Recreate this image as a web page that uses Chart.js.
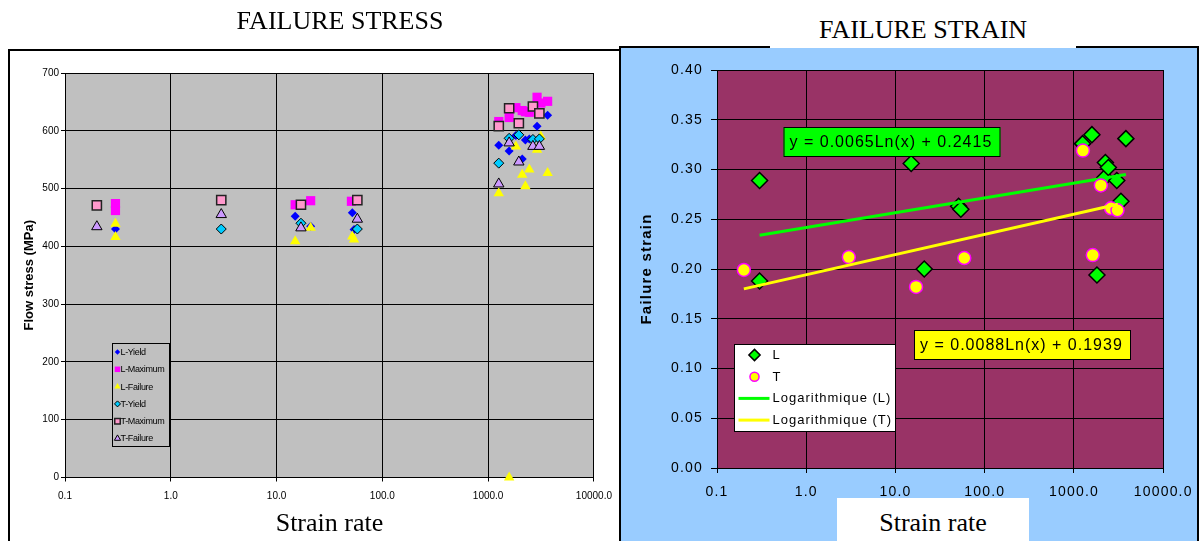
<!DOCTYPE html>
<html>
<head>
<meta charset="utf-8">
<script src="https://cdn.jsdelivr.net/npm/chart.js@4.4.1/dist/chart.umd.min.js"></script>
<style>
html,body{margin:0;padding:0;background:#fff;width:1201px;height:541px;overflow:hidden;position:relative}
.abs{position:absolute}
.ttl{font-family:'Liberation Serif','Times New Roman',serif;font-size:26px;line-height:26px;white-space:nowrap;color:#000}
#leftFrame{left:8px;top:49px;width:800px;height:600px;border:2px solid #000;z-index:1}
#leftCanvas{left:0;top:0;z-index:2}
#rightPanel{left:619px;top:46px;width:576px;height:600px;background:#99CCFF;border:2px solid #000;z-index:3}
#rightCanvas{left:621px;top:48px;z-index:4}
#title1{left:340px;top:8px;transform:translateX(-50%);z-index:5}
#title2{left:770px;top:0;width:306px;height:48px;background:#fff;text-align:center;padding-top:0;z-index:5}
#title2 span{position:relative;top:16.5px}
#xTitle2{left:837px;top:498px;width:192px;height:60px;background:#fff;text-align:center;z-index:5}
#xTitle2 span{position:relative;top:12px}
</style>
</head>
<body>
<div id="leftFrame" class="abs"></div>
<canvas id="leftCanvas" class="abs" width="621" height="541"></canvas>
<div id="rightPanel" class="abs"></div>
<canvas id="rightCanvas" class="abs" width="578" height="493"></canvas>
<div id="title1" class="abs ttl">FAILURE STRESS</div>
<div id="title2" class="abs ttl"><span>FAILURE STRAIN</span></div>
<div id="xTitle2" class="abs ttl"><span>Strain rate</span></div>
<script>
// ---------- tick values / labels ----------
const rateTicks = [0.1, 1, 10, 100, 1000, 10000];
const rateTickLabels = ['0.1', '1.0', '10.0', '100.0', '1000.0', '10000.0'];
const stressTicks = [0, 100, 200, 300, 400, 500, 600, 700];
const stressTickLabels = ['0', '100', '200', '300', '400', '500', '600', '700'];
const strainTicks = [0, 0.05, 0.10, 0.15, 0.20, 0.25, 0.30, 0.35, 0.40];
const strainTickLabels = ['0.00', '0.05', '0.10', '0.15', '0.20', '0.25', '0.30', '0.35', '0.40'];

// ---------- FAILURE STRESS data ----------
const stressSeriesNames = ['L-Yield', 'L-Maximum', 'L-Failure', 'T-Yield', 'T-Maximum', 'T-Failure'];
const lYieldRate = [0.3, 15, 21, 52, 54, 1260, 1580, 1830, 2100, 2250, 2450, 2900, 3650];
const lYieldStress = [430, 452, 435, 458, 429, 575, 565, 592, 551, 584, 586, 608, 627];
const lMaxRate = [0.3, 0.3, 15, 21, 51, 1260, 1580, 1830, 2100, 2250, 2450, 2900, 3150, 3650];
const lMaxStress = [474, 462, 472, 479, 478, 616, 623, 640, 635, 633, 632, 658, 648, 651];
const lFailRate = [0.3, 0.3, 15, 21, 52, 54, 1580, 1260, 1830, 2100, 2250, 2450, 2900, 3150, 3650];
const lFailStress = [439, 416, 409, 432, 417, 412, 0, 492, 573, 524, 504, 533, 567, 590, 527];
const tYieldRate = [3, 17, 58, 1260, 1580, 1950, 2650, 3050];
const tYieldStress = [430, 440, 430, 544, 587, 593, 585, 586];
const tMaxRate = [0.2, 3, 17, 58, 1260, 1580, 1950, 2650, 3050];
const tMaxStress = [471, 480, 472, 480, 608, 639, 613, 642, 630];
const tFailRate = [0.2, 3, 17, 58, 1260, 1580, 1950, 2650, 3050];
const tFailStress = [434, 455, 432, 447, 508, 579, 546, 573, 573];

// ---------- FAILURE STRAIN data ----------
const strainSeriesNames = ['L', 'T', 'Logarithmique (L)', 'Logarithmique (T)'];
const lStrainRate = [0.3, 0.3, 15, 21, 51, 54, 1250, 1590, 1810, 2220, 2250, 2430, 3020, 3360, 3820];
const lStrain = [0.289, 0.188, 0.306, 0.200, 0.263, 0.260, 0.326, 0.335, 0.194, 0.292, 0.307, 0.302, 0.289, 0.268, 0.331];
const tStrainRate = [0.2, 3, 17, 59, 1260, 1625, 2000, 2600, 3075];
const tStrain = [0.199, 0.212, 0.182, 0.211, 0.319, 0.214, 0.284, 0.261, 0.259];
// trendline end points
const trendLRate = [0.3, 3820];
const trendLStrain = [0.234, 0.295];
const trendTRate = [0.2, 3100];
const trendTStrain = [0.180, 0.265];
const trendEquations = ['y = 0.0065Ln(x) + 0.2415', 'y = 0.0088Ln(x) + 0.1939'];

const pts = (xs, ys) => xs.map((x, i) => ({x: x, y: ys[i]}));

const SANS = "'Liberation Sans', Arial, sans-serif";
const SERIF = "'Liberation Serif', 'Times New Roman', serif";
Chart.defaults.font.family = SANS;
Chart.defaults.color = '#000';

function drawMarker(ctx, style, r, x, y, fill, stroke, bw) {
  ctx.beginPath();
  if (style === 'rect') {
    const s = r * Math.SQRT1_2;
    ctx.rect(x - s, y - s, 2 * s, 2 * s);
  } else if (style === 'rectRot') {
    ctx.moveTo(x, y - r); ctx.lineTo(x + r, y); ctx.lineTo(x, y + r); ctx.lineTo(x - r, y); ctx.closePath();
  } else if (style === 'triangle') {
    ctx.moveTo(x, y - r); ctx.lineTo(x + r * 0.866, y + r * 0.5); ctx.lineTo(x - r * 0.866, y + r * 0.5); ctx.closePath();
  } else {
    ctx.arc(x, y, r, 0, Math.PI * 2);
  }
  ctx.fillStyle = fill; ctx.fill();
  if (bw > 0) { ctx.strokeStyle = stroke; ctx.lineWidth = bw; ctx.stroke(); }
}

const plotBg = {
  id: 'plotBg',
  beforeDraw(chart, args, opts) {
    const a = chart.chartArea, ctx = chart.ctx;
    ctx.save();
    ctx.fillStyle = opts.color;
    ctx.fillRect(a.left, a.top, a.right - a.left, a.bottom - a.top);
    ctx.restore();
    ctx.letterSpacing = opts.spacing || '0px';
  },
  afterDraw(chart) { chart.ctx.letterSpacing = '0px'; }
};

const boxLegend = {
  id: 'boxLegend',
  afterDraw(chart, args, o) {
    const ctx = chart.ctx;
    ctx.save();
    ctx.letterSpacing = '0px';
    ctx.fillStyle = o.bg;
    ctx.fillRect(o.x, o.y, o.w, o.h);
    ctx.strokeStyle = '#000'; ctx.lineWidth = 1;
    ctx.strokeRect(o.x + 0.5, o.y + 0.5, o.w - 1, o.h - 1);
    chart.data.datasets.forEach((ds, i) => {
      const cy = o.y + o.first + i * o.step;
      if (ds.showLine) {
        ctx.beginPath();
        ctx.strokeStyle = ds.borderColor; ctx.lineWidth = ds.borderWidth;
        ctx.moveTo(o.lineX0, cy); ctx.lineTo(o.lineX1, cy); ctx.stroke();
      } else {
        drawMarker(ctx, ds.pointStyle, ds.pointRadius * o.markerScale, o.markerX, cy,
          ds.backgroundColor, ds.borderColor, ds.borderWidth);
      }
      ctx.font = o.font;
      ctx.letterSpacing = o.spacing;
      ctx.fillStyle = '#000'; ctx.textBaseline = 'middle'; ctx.textAlign = 'left';
      ctx.fillText(ds.label, o.textX, cy + 0.5);
      ctx.letterSpacing = '0px';
    });
    ctx.restore();
  }
};

const eqBoxes = {
  id: 'eqBoxes',
  afterDraw(chart, args, o) {
    const ctx = chart.ctx;
    ctx.save();
    o.boxes.forEach(b => {
      ctx.fillStyle = b.fill; ctx.fillRect(b.x, b.y, b.w, b.h);
      ctx.strokeStyle = '#000'; ctx.lineWidth = 1; ctx.strokeRect(b.x + 0.5, b.y + 0.5, b.w - 1, b.h - 1);
      ctx.font = o.font; ctx.letterSpacing = o.spacing;
      ctx.fillStyle = '#000'; ctx.textBaseline = 'middle'; ctx.textAlign = 'left';
      ctx.fillText(b.text, b.x + o.padX, b.y + b.h / 2 + 1);
      ctx.letterSpacing = '0px';
    });
    ctx.restore();
  }
};

// ---------- left chart ----------
const stressStyles = [
  {pointStyle: 'rectRot', pointRadius: 4.5, backgroundColor: '#0000FF', borderColor: '#0000FF', borderWidth: 0},
  {pointStyle: 'rect', pointRadius: 6.5, backgroundColor: '#FF00FF', borderColor: '#FF00FF', borderWidth: 0},
  {pointStyle: 'triangle', pointRadius: 6, backgroundColor: '#FFFF00', borderColor: '#FFFF00', borderWidth: 0},
  {pointStyle: 'rectRot', pointRadius: 5, backgroundColor: '#00CCFF', borderColor: '#000000', borderWidth: 1},
  {pointStyle: 'rect', pointRadius: 6.5, backgroundColor: '#FF99CC', borderColor: '#222222', borderWidth: 1.5},
  {pointStyle: 'triangle', pointRadius: 6, backgroundColor: '#CC99FF', borderColor: '#000000', borderWidth: 1}
];
const stressData = [
  pts(lYieldRate, lYieldStress), pts(lMaxRate, lMaxStress), pts(lFailRate, lFailStress),
  pts(tYieldRate, tYieldStress), pts(tMaxRate, tMaxStress), pts(tFailRate, tFailStress)
];
const leftDatasets = stressSeriesNames.map((name, i) => Object.assign({
  label: name, data: stressData[i], order: stressSeriesNames.length - i, clip: false,
  pointHoverRadius: stressStyles[i].pointRadius
}, stressStyles[i]));

new Chart(document.getElementById('leftCanvas'), {
  type: 'scatter',
  data: {datasets: leftDatasets},
  plugins: [plotBg, boxLegend],
  options: {
    responsive: false, animation: false, devicePixelRatio: 1,
    layout: {padding: {left: 10, right: 25, top: 73, bottom: 0}},
    plugins: {
      legend: {display: false}, tooltip: {enabled: false},
      plotBg: {color: '#C0C0C0'},
      boxLegend: {x: 112, y: 343, w: 58, h: 104, first: 9, step: 17.3, bg: '#C0C0C0',
        markerX: 117.5, markerScale: 0.6, textX: 120.5, font: '9px ' + SANS, spacing: '-0.35px',
        lineX0: 0, lineX1: 0}
    },
    scales: {
      x: {
        type: 'logarithmic', min: 0.1, max: 10000,
        afterBuildTicks: s => { s.ticks = rateTicks.map(v => ({value: v})); },
        afterFit: s => { s.height = 63.5; },
        ticks: {callback: v => rateTickLabels[rateTicks.indexOf(v)], font: {size: 10}, color: '#000',
          padding: 9, autoSkip: false, maxRotation: 0},
        grid: {color: '#000', lineWidth: 1, tickLength: 4},
        border: {color: '#000', width: 1},
        title: {display: true, text: 'Strain rate', color: '#000',
          font: {family: SERIF, size: 26, weight: 'normal'}, padding: {top: 0, bottom: 1}}
      },
      y: {
        min: 0, max: 700,
        afterBuildTicks: s => { s.ticks = stressTicks.map(v => ({value: v})); },
        afterFit: s => { s.width = 55; },
        ticks: {callback: v => stressTickLabels[stressTicks.indexOf(v)], font: {size: 10}, color: '#000', padding: 2},
        grid: {color: '#000', lineWidth: 1, tickLength: 4},
        border: {color: '#000', width: 1},
        title: {display: true, text: 'Flow stress (MPa)', color: '#000',
          font: {size: 13, weight: 'bold'}, padding: {top: 12, bottom: 0}}
      }
    }
  }
});

// ---------- right chart ----------
const rightDatasets = [
  {label: strainSeriesNames[0], data: pts(lStrainRate, lStrain), order: 4, clip: false,
   pointStyle: 'rectRot', pointRadius: 8, pointHoverRadius: 8, backgroundColor: '#00FF00', borderColor: '#000000', borderWidth: 1.5},
  {label: strainSeriesNames[1], data: pts(tStrainRate, tStrain), order: 2, clip: false,
   pointStyle: 'circle', pointRadius: 6.5, pointHoverRadius: 6.5, backgroundColor: '#FFFF00', borderColor: '#FF00FF', borderWidth: 1.5},
  {label: strainSeriesNames[2], data: pts(trendLRate, trendLStrain), order: 3, showLine: true,
   pointRadius: 0, borderColor: '#00FF00', backgroundColor: '#00FF00', borderWidth: 3},
  {label: strainSeriesNames[3], data: pts(trendTRate, trendTStrain), order: 1, showLine: true,
   pointRadius: 0, borderColor: '#FFFF00', backgroundColor: '#FFFF00', borderWidth: 3}
];

new Chart(document.getElementById('rightCanvas'), {
  type: 'scatter',
  data: {datasets: rightDatasets},
  plugins: [plotBg, boxLegend, eqBoxes],
  options: {
    responsive: false, animation: false, devicePixelRatio: 1,
    layout: {padding: {left: 4, right: 33, top: 22, bottom: 0}},
    plugins: {
      legend: {display: false}, tooltip: {enabled: false},
      plotBg: {color: '#993366', spacing: '1.2px'},
      boxLegend: {x: 113, y: 296, w: 162, h: 88, first: 11, step: 21.7, bg: '#FFFFFF',
        markerX: 133.5, markerScale: 0.7, textX: 151.5, font: '13px ' + SANS, spacing: '1px',
        lineX0: 117.5, lineX1: 148.5},
      eqBoxes: {font: '16px ' + SANS, spacing: '1px', padX: 6, boxes: [
        {x: 162.5, y: 79, w: 217, h: 30, fill: '#00FF00', text: trendEquations[0]},
        {x: 293, y: 282, w: 217, h: 30, fill: '#FFFF00', text: trendEquations[1]}
      ]}
    },
    scales: {
      x: {
        type: 'logarithmic', min: 0.1, max: 10000,
        afterBuildTicks: s => { s.ticks = rateTicks.map(v => ({value: v})); },
        afterFit: s => { s.height = 73; },
        ticks: {callback: v => rateTickLabels[rateTicks.indexOf(v)], font: {size: 14}, color: '#000',
          padding: 10.5, autoSkip: false, maxRotation: 0},
        grid: {color: '#000', lineWidth: 1, tickLength: 5},
        border: {color: '#000', width: 1},
        title: {display: false}
      },
      y: {
        min: 0, max: 0.4,
        afterBuildTicks: s => { s.ticks = strainTicks.map(v => ({value: v})); },
        afterFit: s => { s.width = 92; },
        ticks: {callback: v => strainTickLabels[strainTicks.indexOf(v)], font: {size: 14}, color: '#000', padding: 8},
        grid: {color: '#000', lineWidth: 1, tickLength: 6},
        border: {color: '#000', width: 1},
        title: {display: true, text: 'Failure strain', color: '#000',
          font: {size: 15, weight: 'bold'}, padding: {top: 13, bottom: 0}}
      }
    }
  }
});
</script>
</body>
</html>
